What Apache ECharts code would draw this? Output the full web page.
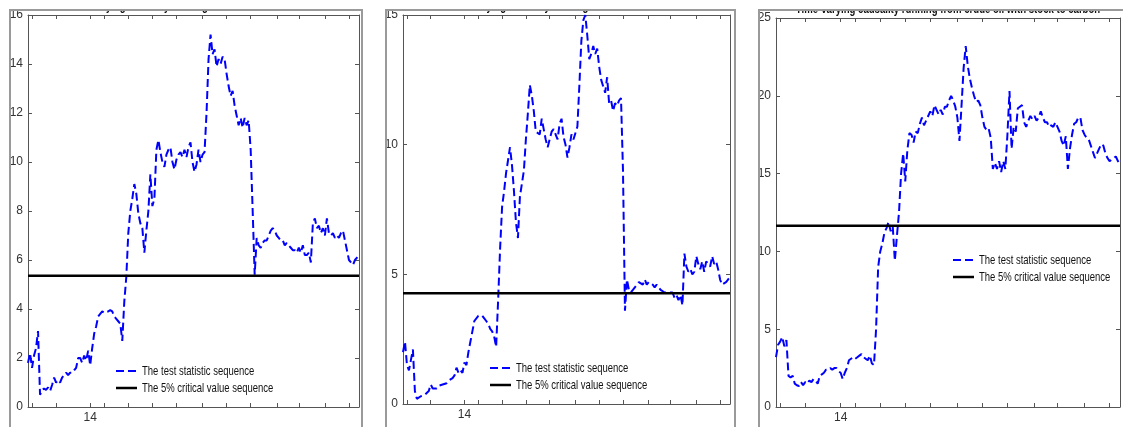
<!DOCTYPE html>
<html>
<head>
<meta charset="utf-8">
<script src="https://cdn.jsdelivr.net/npm/echarts@6/dist/echarts.min.js"></script>
<style>
  html, body { margin: 0; padding: 0; background: #ffffff; }
  #chart { width: 1123px; height: 427px; }
</style>
</head>
<body>
<div id="chart"></div>
<script>
// Series names shown in every legend
const seriesNames = ['The test statistic sequence', 'The 5% critical value sequence'];

// Panel titles
const panelTitles = [
  'Time-varying causality running from crude oil to carbon',
  'Time-varying causality running from stock to carbon',
  'Time-varying causality running from crude oil with stock to carbon'
];

// Test statistic sequences (one value per observation, 166 observations)
const statCrudeOil = [
  1.8, 2.2, 1.6, 2.1, 2.4, 3.1, 0.5, 0.7, 0.75, 0.7,
  0.8, 0.65, 0.9, 1.2, 1.0, 1.1, 1.0, 1.2, 1.3, 1.4,
  1.3, 1.4, 1.4, 1.5, 1.6, 2.0, 2.0, 1.8, 2.1, 1.9,
  2.3, 1.7, 2.4, 3.0, 3.3, 3.7, 3.8, 3.9, 3.85, 3.9,
  3.9, 3.95, 3.9, 3.7, 3.6, 3.5, 3.4, 2.7, 4.3, 5.3,
  7.1, 8.0, 8.5, 9.1, 8.7, 7.9, 7.5, 7.3, 6.3, 7.2,
  8.0, 9.5, 8.2, 8.5, 10.5, 10.9, 10.4, 10.0, 9.8, 10.3,
  10.5, 10.6, 10.0, 9.7, 10.1, 10.3, 10.4, 10.2, 10.5, 10.2,
  10.6, 10.8, 10.0, 9.6, 9.9, 10.5, 10.0, 10.3, 10.4, 12.0,
  14.2, 15.2, 14.4, 14.6, 13.9, 14.2, 14.0, 14.3, 14.2, 13.6,
  13.1, 12.7, 12.9, 12.3, 11.9, 11.5, 11.8, 11.4, 11.8, 11.5,
  11.7, 10.5, 8.0, 5.4, 6.9, 6.6, 6.5, 6.7, 6.8, 6.8,
  7.0, 7.2, 7.3, 7.2, 7.0, 6.9, 6.8, 6.8, 6.6, 6.7,
  6.6, 6.5, 6.4, 6.4, 6.3, 6.5, 6.3, 6.6, 6.2, 6.2,
  6.3, 5.9, 7.5, 7.7, 7.3, 7.4, 7.1, 7.3, 7.0, 7.7,
  7.1, 7.0, 7.1, 6.9, 7.0, 6.9, 7.1, 7.2, 6.8, 6.4,
  6.0, 5.9, 5.8, 6.0, 6.1, 6.2
];
const statStock = [
  2.0, 2.4, 1.5, 1.3, 1.7, 2.1, 0.5, 0.2, 0.25, 0.3,
  0.3, 0.35, 0.4, 0.5, 0.75, 0.6, 0.65, 0.6, 0.7, 0.7,
  0.75, 0.8, 0.8, 0.9, 0.95, 1.0, 1.1, 1.4, 1.2, 1.3,
  1.2, 1.6, 1.5, 2.0, 2.4, 2.8, 3.2, 3.2, 3.4, 3.4,
  3.4, 3.3, 3.2, 3.1, 2.9, 2.8, 2.6, 2.2, 4.0, 6.0,
  7.6, 8.2, 8.9, 9.4, 9.9, 9.2, 8.2, 7.0, 6.4, 8.0,
  8.5, 9.0, 10.2, 11.2, 12.3, 11.9, 11.3, 10.5, 10.5, 10.4,
  11.0, 10.6, 10.2, 9.9, 10.2, 10.5, 10.6, 10.4, 10.2, 10.8,
  11.0, 10.3, 10.0, 9.5, 9.9, 10.4, 10.2, 10.2, 10.7, 12.3,
  14.0, 14.8, 15.0, 14.2, 13.3, 13.5, 13.8, 13.5, 13.7, 13.0,
  12.5, 12.5, 12.0, 12.6, 11.6, 11.7, 11.3, 11.6, 11.5, 11.7,
  11.8, 9.0, 3.6, 4.8, 4.4, 4.3, 4.4, 4.5, 4.5, 4.7,
  4.7, 4.6, 4.8, 4.6, 4.7, 4.7, 4.6, 4.5, 4.6, 4.5,
  4.4, 4.4, 4.3, 4.25, 4.3, 4.25, 4.3, 4.1, 4.2, 4.0,
  4.2, 3.8, 5.8, 5.3, 5.1, 5.2, 5.0, 5.1, 5.7, 5.4,
  5.2, 5.5, 5.1, 5.5, 5.5, 5.3, 5.7, 5.4, 5.5, 5.2,
  4.8, 4.6, 4.65, 4.7, 4.8, 4.9
];
const statCrudeOilStock = [
  3.2, 4.0, 4.2, 4.5, 3.9, 4.3, 2.0, 1.9, 2.0, 1.5,
  1.4, 1.35, 1.6, 1.4, 1.6, 1.5, 1.7, 1.6, 1.8, 1.7,
  1.5, 2.0, 2.1, 2.2, 2.4, 2.4, 2.5, 2.4, 2.5, 2.5,
  2.3, 2.2, 1.8, 2.2, 2.5, 3.0, 3.1, 3.2, 3.1, 3.2,
  3.3, 3.4, 3.2, 3.1, 3.0, 3.3, 2.8, 2.7, 5.0, 9.0,
  10.0, 10.5, 11.2, 11.5, 11.9, 11.3, 11.6, 9.4, 11.0, 12.5,
  15.0, 16.3, 14.5, 16.5, 17.6, 17.5, 17.0, 17.7, 17.6, 18.2,
  18.6, 18.1, 18.4, 18.7, 19.0, 18.7, 19.4, 19.1, 18.8, 19.1,
  18.8, 19.3, 19.3, 19.7, 20.0, 19.7, 19.3, 18.6, 17.1, 19.4,
  21.8, 23.2, 21.9, 21.1, 20.5, 20.0, 19.6, 19.7, 19.4, 18.6,
  18.0, 17.8, 17.9, 17.3, 15.3, 15.7, 15.3, 15.8, 15.1, 15.8,
  15.3, 17.5, 20.3, 16.6, 18.0, 17.7, 19.2, 19.3, 19.4, 18.3,
  18.0, 18.4, 18.7, 18.5, 18.7, 18.4, 18.6, 19.0, 18.6, 18.3,
  18.3, 18.0, 18.1, 18.0, 18.3, 18.0, 17.7, 17.1, 16.8, 17.4,
  15.3, 16.6, 17.5, 18.2, 18.3, 18.6, 18.6, 17.8, 17.5, 17.3,
  17.2, 16.8, 16.4, 16.0, 16.3, 16.6, 16.9, 16.8, 16.3, 16.0,
  15.8, 15.9, 16.0, 16.1, 15.8, 15.6
];

// 5% critical values (constant over the sample)
const criticalValues = [5.36, 4.27, 11.65];

// Y axis ranges and steps
const yMaxValues = [16, 15, 25];
const yIntervals = [2, 5, 5];

// X tick positions (observation index) and the labelled tick
const xTickPositions = [2, 14, 31, 38, 50, 62, 74, 87, 99, 111, 124, 135, 148, 160];
const xLabelPositions = [31];
const xLabelTexts = ['14'];

const statSeries = [statCrudeOil, statStock, statCrudeOilStock];
const lastIndex = statCrudeOil.length - 1;

const FONT = '"Liberation Sans", Arial, Helvetica, sans-serif';

// Layout of the three panels
const grids = [
  { left: 28, top: 15, width: 331, height: 392 },
  { left: 403, top: 15, width: 327, height: 389 },
  { left: 776, top: 18, width: 344, height: 389 }
];
// legend anchor: left end of the sample line, centre of the first row
const legendPos = [
  { x: 116, y: 371 },
  { x: 490, y: 368 },
  { x: 953, y: 260 }
];
const legendRowGap = 17;
const frames = [
  { x: 10, y: 10, width: 352, height: 440 },
  { x: 386, y: 10, width: 349, height: 440 },
  { x: 759, y: 10, width: 400, height: 440 }
];
const titleY = [7, 7, 10];

const lineStyles = [
  { stroke: '#0000ff', lineWidth: 2, lineDash: [8, 4] },
  { stroke: '#000000', lineWidth: 2.5, lineDash: null }
];

const axisLineStyle = { color: '#555555', width: 1 };

const xAxes = [];
const yAxes = [];
const series = [];
const graphics = [];

grids.forEach((g, p) => {
  // bottom and top x axes
  ['bottom', 'top'].forEach((pos) => {
    xAxes.push({
      type: 'value',
      gridIndex: p,
      position: pos,
      min: 0,
      max: lastIndex,
      axisLine: { show: true, onZero: false, lineStyle: axisLineStyle },
      axisTick: { show: true, inside: true, length: 4, customValues: xTickPositions, lineStyle: axisLineStyle },
      axisLabel: {
        show: pos === 'bottom',
        customValues: xLabelPositions,
        formatter: (v) => xLabelTexts[xLabelPositions.indexOf(v)] || '',
        margin: 5,
        fontFamily: FONT,
        fontSize: 12,
        color: '#333333'
      },
      splitLine: { show: false }
    });
  });
  // left and right y axes
  ['left', 'right'].forEach((pos) => {
    yAxes.push({
      type: 'value',
      gridIndex: p,
      position: pos,
      min: 0,
      max: yMaxValues[p],
      interval: yIntervals[p],
      axisLine: { show: true, onZero: false, lineStyle: axisLineStyle },
      axisTick: { show: true, inside: true, length: 4, lineStyle: axisLineStyle },
      axisLabel: {
        show: pos === 'left',
        margin: 5,
        fontFamily: FONT,
        fontSize: 12,
        color: '#333333'
      },
      splitLine: { show: false }
    });
  });

  series.push({
    name: seriesNames[0],
    type: 'line',
    xAxisIndex: p * 2,
    yAxisIndex: p * 2,
    data: statSeries[p].map((v, i) => [i, v]),
    symbol: 'none',
    lineStyle: { color: lineStyles[0].stroke, width: lineStyles[0].lineWidth, type: lineStyles[0].lineDash },
    silent: true
  });
  series.push({
    name: seriesNames[1],
    type: 'line',
    xAxisIndex: p * 2,
    yAxisIndex: p * 2,
    data: [[0, criticalValues[p]], [lastIndex, criticalValues[p]]],
    symbol: 'none',
    lineStyle: { color: lineStyles[1].stroke, width: lineStyles[1].lineWidth, type: 'solid' },
    silent: true
  });

  // legend: sample line + condensed label for each series
  seriesNames.forEach((name, k) => {
    const y = legendPos[p].y + k * legendRowGap;
    graphics.push({
      type: 'line', z: 20,
      shape: { x1: legendPos[p].x, y1: y, x2: legendPos[p].x + 21, y2: y },
      style: Object.assign({}, lineStyles[k])
    });
    graphics.push({
      type: 'text', z: 20,
      x: legendPos[p].x + 26, y: y,
      scaleX: 0.73,
      style: {
        text: name,
        textAlign: 'left',
        textVerticalAlign: 'middle',
        font: '13px ' + FONT,
        fill: '#111111'
      }
    });
  });

  // panel title
  graphics.push({
    type: 'text',
    z: 1,
    x: g.left + g.width / 2,
    y: titleY[p],
    scaleX: 0.8,
    style: {
      text: panelTitles[p],
      textAlign: 'center',
      textVerticalAlign: 'middle',
      font: 'bold 12px ' + FONT,
      fill: '#111111'
    }
  });
});

// white strip along the top edge of the page
graphics.push({
  type: 'rect', z: 50,
  shape: { x: 0, y: 0, width: 1123, height: 10 },
  style: { fill: '#ffffff' }
});
// grey panel frames
frames.forEach((f) => {
  graphics.push({
    type: 'rect', z: 60,
    shape: f,
    style: { fill: 'none', stroke: '#9a9a9a', lineWidth: 2 }
  });
});

const chart = echarts.init(document.getElementById('chart'), null, { renderer: 'canvas' });
chart.setOption({
  animation: false,
  backgroundColor: '#ffffff',
  grid: grids.map((g) => Object.assign({ containLabel: false, show: false }, g)),
  xAxis: xAxes,
  yAxis: yAxes,
  series: series,
  graphic: { elements: graphics }
});
</script>
</body>
</html>
